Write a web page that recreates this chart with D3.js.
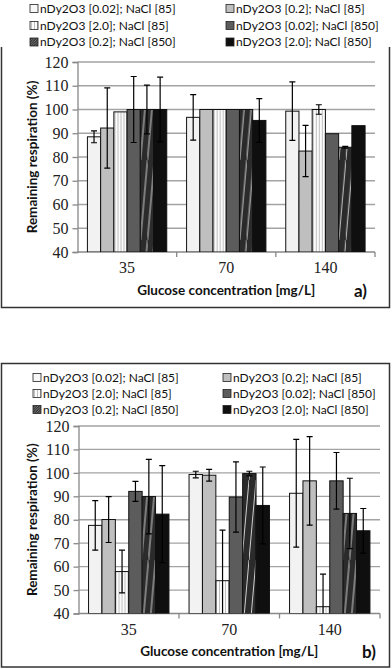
<!DOCTYPE html>
<html>
<head>
<meta charset="utf-8">
<script src="https://cdn.jsdelivr.net/npm/d3@7"></script>
<style>
  body { margin: 0; background: #fff; }
  svg { display: block; }
</style>
</head>
<body>
<svg class="fig" width="392" height="669"></svg>
<script>
// data
var groups = ["35", "70", "140"]
var seriesNames = [
  "nDy2O3 [0.02]; NaCl [85]", "nDy2O3 [0.2]; NaCl [85]",
  "nDy2O3 [2.0]; NaCl [85]", "nDy2O3 [0.02]; NaCl [850]",
  "nDy2O3 [0.2]; NaCl [850]", "nDy2O3 [2.0]; NaCl [850]"
]
var yTicks = [40, 50, 60, 70, 80, 90, 100, 110, 120]

// panel a) one row per glucose group, one value per series
var meanA = [
  [88.5, 92.2, 99, 100, 100, 100],
  [96.7, 100, 100, 100, 100, 95.4],
  [99.3, 82.5, 100, 89.8, 84.1, 93.2]
]
var errA = [
  [2.5, 16.9, 0, 13.9, 10.3, 13.6],
  [9.6, 0, 0, 0, 0, 9.2],
  [12.3, 10.8, 2, 0, 0.4, 0]
]

// panel b)
var meanB = [
  [77.6, 80.1, 57.9, 92.1, 89.9, 82.4],
  [99.3, 99, 54, 89.7, 99.7, 86.1],
  [91.3, 96.6, 42.9, 96.6, 82.7, 75.3]
]
var errB = [
  [10.6, 9.8, 9.1, 4.3, 15.9, 20.7],
  [1.4, 2.5, 21.6, 15, 1, 16.4],
  [23, 18.9, 13.9, 12.1, 15, 9.5]
]

var svg = d3.select(".fig")
var defs = svg.append("defs")

// fills for the six series
var vs = defs.append("pattern").attr("id", "vstripe")
  .attr("patternUnits", "userSpaceOnUse").attr("width", 3).attr("height", 10)
vs.append("rect").attr("width", 3).attr("height", 10).attr("fill", "#fbfbfb")
vs.append("line").attr("x1", 1.5).attr("x2", 1.5).attr("y1", 0).attr("y2", 10)
  .attr("stroke", "#b0b0b0").attr("stroke-width", 0.8)

var dg = defs.append("pattern").attr("id", "diag")
  .attr("patternUnits", "userSpaceOnUse").attr("width", 7).attr("height", 80)
dg.append("rect").attr("width", 7).attr("height", 80).attr("fill", "#2b2b2b")
dg.append("line").attr("x1", 0).attr("y1", 80).attr("x2", 7).attr("y2", 0)
  .attr("stroke", "#e0e0e0").attr("stroke-width", 0.9)

var ldg = defs.append("pattern").attr("id", "diagSmall")
  .attr("patternUnits", "userSpaceOnUse").attr("width", 2.5).attr("height", 2.5)
ldg.append("rect").attr("width", 2.5).attr("height", 2.5).attr("fill", "#333")
ldg.append("line").attr("x1", 0).attr("y1", 2.5).attr("x2", 2.5).attr("y2", 0)
  .attr("stroke", "#aaa").attr("stroke-width", 0.6)

var fills = ["#f2f2f2", "#bfbfbf", "url(#vstripe)", "#5c5c5c", "url(#diag)", "#0f0f0f"]
var legendFills = ["#f7f7f7", "#bfbfbf", "url(#vstripe)", "#5c5c5c", "url(#diagSmall)", "#0f0f0f"]

function drawPanel(p) {
  var g = svg.append("g").attr("class", "panel-" + p.tag)

  // frame
  if (p.openTop) {
    g.append("path")
      .attr("d", "M1.5," + p.frame[0] + "V" + p.frame[1] + "H389.5V" + p.frame[0])
      .attr("fill", "none").attr("stroke", "#333").attr("stroke-width", 1.5)
  } else {
    g.append("rect").attr("x", 1.5).attr("y", p.frame[0])
      .attr("width", 388).attr("height", p.frame[1] - p.frame[0])
      .attr("fill", "none").attr("stroke", "#333").attr("stroke-width", 1.5)
  }

  // legend
  var leg = g.append("g").selectAll("g").data(seriesNames).enter().append("g")
    .attr("transform", (d, i) => "translate(" + p.legX[i % 2] + "," + p.legY[Math.floor(i / 2)] + ")")
  leg.append("rect").attr("x", 0).attr("y", -8).attr("width", 8).attr("height", 8)
    .attr("fill", (d, i) => legendFills[i]).attr("stroke", "#222").attr("stroke-width", 0.8)
  leg.append("text").text(d => d).attr("x", 10).attr("y", 0)
    .attr("font-family", "Lato, 'Noto Sans', sans-serif").attr("font-size", "12px").attr("fill", "#111")

  var xScale = d3.scaleBand().domain(groups).range([p.x0, p.x1])
  var bw = xScale.bandwidth()
  var subScale = d3.scaleBand().domain(d3.range(6)).range([bw * 0.1, bw * 0.9])
  var yScale = d3.scaleLinear().domain([40, 120]).range([p.yBot, p.yTop])

  // gridlines
  g.append("g").selectAll("line").data(yTicks.slice(1)).enter().append("line")
    .attr("x1", p.x0).attr("x2", p.x1)
    .attr("y1", d => yScale(d)).attr("y2", d => yScale(d))
    .attr("stroke", "#a3a3a3").attr("stroke-width", 1.3)

  // y axis
  var yAxis = g.append("g").attr("transform", "translate(" + p.x0 + ",0)")
    .call(d3.axisLeft(yScale).tickValues(yTicks).tickSize(5).tickPadding(4))
  yAxis.select(".domain").attr("stroke", "#888").attr("stroke-width", 1.3)
  yAxis.selectAll(".tick line").attr("stroke", "#888").attr("stroke-width", 1.3)
  yAxis.selectAll("text").attr("font-family", "'Liberation Serif', serif")
    .attr("font-size", "16px").attr("fill", "#222")

  // x axis
  var xAxis = g.append("g").attr("transform", "translate(0," + p.yBot + ")")
    .call(d3.axisBottom(xScale).tickSize(0).tickPadding(10))
  xAxis.select(".domain").remove()
  xAxis.selectAll("text").attr("font-family", "'Liberation Serif', serif")
    .attr("font-size", "16px").attr("fill", "#222")
  g.append("line").attr("x1", p.x0).attr("x2", p.x1)
    .attr("y1", p.yBot).attr("y2", p.yBot).attr("stroke", "#888").attr("stroke-width", 1.3)
  g.append("g").selectAll("line").data(groups).enter().append("line")
    .attr("x1", d => xScale(d) + bw).attr("x2", d => xScale(d) + bw)
    .attr("y1", p.yBot).attr("y2", p.yBot + 5)
    .attr("stroke", "#888").attr("stroke-width", 1.3)

  // bars
  var clipId = "clip-" + p.tag
  defs.append("clipPath").attr("id", clipId).append("rect")
    .attr("x", p.x0).attr("y", p.yTop - 20).attr("width", p.x1 - p.x0).attr("height", p.yBot - p.yTop + 20)

  var bars = g.append("g").attr("clip-path", "url(#" + clipId + ")")
    .selectAll("g").data(groups).enter().append("g")
    .attr("transform", d => "translate(" + xScale(d) + ",0)")
  var items = bars.selectAll("g").data((d, gi) => p.mean[gi].map((v, si) => ({ s: si, v: v, e: p.err[gi][si] })))
    .enter().append("g")
  items.append("rect")
    .attr("x", d => subScale(d.s))
    .attr("y", d => yScale(d.v))
    .attr("width", subScale.bandwidth())
    .attr("height", d => p.yBot - yScale(d.v))
    .attr("fill", d => fills[d.s])
    .attr("stroke", "#111").attr("stroke-width", 1)

  var eb = items.filter(d => d.e > 0)
  var cx = d => subScale(d.s) + subScale.bandwidth() / 2
  eb.append("line").attr("x1", cx).attr("x2", cx)
    .attr("y1", d => yScale(d.v + d.e)).attr("y2", d => yScale(d.v - d.e))
    .attr("stroke", "#000").attr("stroke-width", 1.2)
  eb.selectAll(".cap").data(d => [d.v + d.e, d.v - d.e].map(y => ({ s: d.s, y: y })))
    .enter().append("line")
    .attr("x1", d => cx(d) - 3).attr("x2", d => cx(d) + 3)
    .attr("y1", d => yScale(d.y)).attr("y2", d => yScale(d.y))
    .attr("stroke", "#000").attr("stroke-width", 1.2)

  // titles
  g.append("text").text("Remaining respiration (%)")
    .attr("transform", "translate(" + p.yTitleX + "," + ((p.yTop + p.yBot) / 2) + ") rotate(-90)")
    .attr("text-anchor", "middle")
    .attr("font-family", "Lato, 'Noto Sans', sans-serif").attr("font-weight", "bold")
    .attr("font-size", "13.5px").attr("fill", "#111")
  g.append("text").text("Glucose concentration [mg/L]")
    .attr("x", (p.x0 + p.x1) / 2).attr("y", p.xTitleY)
    .attr("text-anchor", "middle")
    .attr("font-family", "Lato, 'Noto Sans', sans-serif").attr("font-weight", "bold")
    .attr("font-size", "13.5px").attr("fill", "#111")
  g.append("text").text(p.tag + ")")
    .attr("x", p.tagX).attr("y", p.xTitleY + 2)
    .attr("font-family", "Lato, 'Noto Sans', sans-serif").attr("font-weight", "bold")
    .attr("font-size", "17px").attr("fill", "#111")
}

drawPanel({
  tag: "a", mean: meanA, err: errA, openTop: true, frame: [47, 307.5],
  legX: [30, 226], legY: [12.5, 29.5, 46],
  x0: 77.5, x1: 375, yTop: 62, yBot: 252,
  yTitleX: 37, xTitleY: 295, tagX: 354
})

drawPanel({
  tag: "b", mean: meanB, err: errB, openTop: false, frame: [363.5, 667],
  legX: [33, 223], legY: [381.5, 397.5, 413.5],
  x0: 78.5, x1: 380, yTop: 426, yBot: 613.5,
  yTitleX: 37, xTitleY: 656, tagX: 362
})
</script>
</body>
</html>
